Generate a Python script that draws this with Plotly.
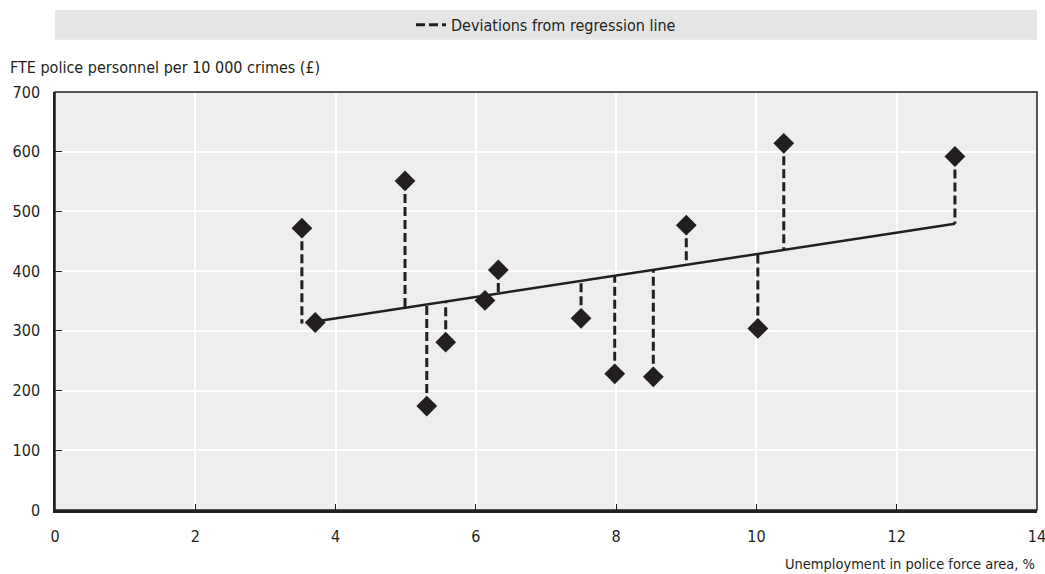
import plotly.graph_objects as go

# Data
unemployment = [3.52, 3.71, 4.99, 5.30, 5.57, 6.13, 6.32, 7.50, 7.98, 8.53, 9.00, 10.02, 10.39, 12.83]
police_per_crimes = [472, 314, 551, 174, 281, 351, 402, 321, 228, 223, 477, 304, 614, 592]
reg_intercept = 249.1
reg_slope = 17.94
x_ticks = [0, 2, 4, 6, 8, 10, 12, 14]
y_ticks = [0, 100, 200, 300, 400, 500, 600, 700]

INK = "#231f20"
FONT = "DejaVu Sans Condensed, Liberation Sans Narrow, Arial Narrow, Roboto, sans-serif"

def fitted(x):
    return reg_intercept + reg_slope * x

# deviation segments
dev_x, dev_y = [], []
for x, y in zip(unemployment, police_per_crimes):
    dev_x += [x, x, None]
    dev_y += [y, fitted(x), None]

line_x = [unemployment[1], max(unemployment)]
line_y = [fitted(v) for v in line_x]

fig = go.Figure()
fig.add_trace(go.Scatter(
    x=dev_x, y=dev_y, mode="lines", name="Deviations from regression line",
    line=dict(color=INK, width=3, dash="9px,4px"), showlegend=True,
))
fig.add_trace(go.Scatter(
    x=line_x, y=line_y, mode="lines", line=dict(color=INK, width=2.5),
    showlegend=False,
))
fig.add_trace(go.Scatter(
    x=unemployment, y=police_per_crimes, mode="markers",
    marker=dict(symbol="diamond", size=16, color=INK), showlegend=False,
))

fig.update_layout(
    width=1045, height=574,
    margin=dict(l=55, r=8, t=87, b=64),
    paper_bgcolor="white", plot_bgcolor="#eeeeee",
    font=dict(family=FONT, size=16, color=INK),
    showlegend=True,
    legend=dict(orientation="h", x=0.5, xanchor="center", y=1 + 68 / 423, yanchor="middle",
                bgcolor="rgba(0,0,0,0)", font=dict(size=16, family=FONT)),
    shapes=[
        dict(type="rect", xref="paper", yref="paper", x0=0, x1=1,
             y0=1 + 53 / 423, y1=1 + 83 / 423, fillcolor="#e5e5e6",
             line=dict(width=0), layer="below"),
        dict(type="rect", xref="paper", yref="paper", x0=0, x1=1, y0=0, y1=1,
             line=dict(color=INK, width=1.5), fillcolor="rgba(0,0,0,0)", layer="above"),
    ],
    annotations=[
        dict(text="FTE police personnel per 10 000 crimes (£)", xref="paper", yref="paper",
             x=-47 / 982, y=1 + 25 / 423, xanchor="left", yanchor="middle",
             showarrow=False, font=dict(size=16, family=FONT)),
        dict(text="Unemployment in police force area, %", xref="paper", yref="paper",
             x=1, y=-55 / 423, xanchor="right", yanchor="middle",
             showarrow=False, font=dict(size=14.5, family=FONT)),
    ],
)
fig.update_xaxes(range=[0, 14], tickvals=x_ticks, showgrid=True, gridcolor="white", gridwidth=1.5,
                 zeroline=False, showline=True, linecolor=INK, linewidth=2.5, mirror=False,
                 ticks="inside", ticklen=6, tickcolor=INK, tickwidth=1, automargin=False,
                 ticklabeloverflow="allow", tickfont=dict(size=16), ticklabelstandoff=10)
fig.update_yaxes(range=[0, 700], tickvals=y_ticks, showgrid=True, gridcolor="white", gridwidth=1.5,
                 zeroline=False, showline=True, linecolor=INK, linewidth=1.5, mirror=False,
                 ticks="inside", ticklen=7, tickcolor=INK, tickwidth=1, automargin=False,
                 ticklabeloverflow="allow", tickfont=dict(size=16), ticklabelstandoff=10)

fig.write_html("out.html", config={"displayModeBar": False, "responsive": False},
               post_script="document.body.style.margin='0';")
